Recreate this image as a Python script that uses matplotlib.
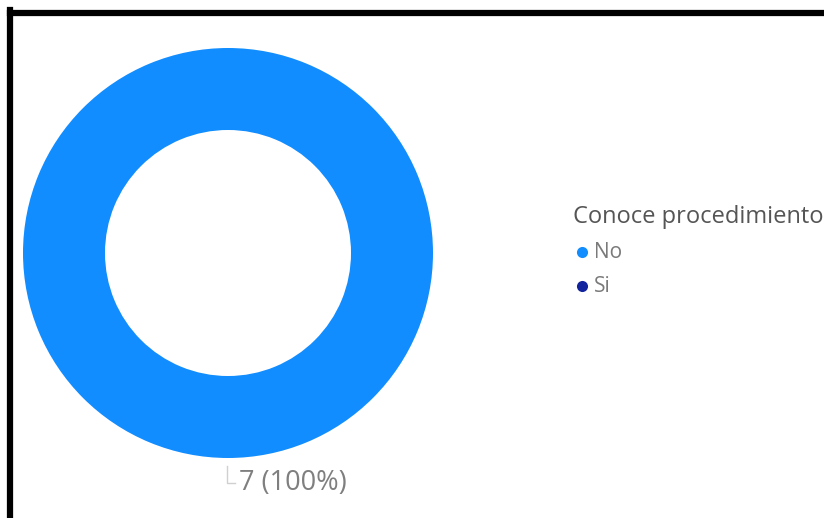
import numpy as np
import matplotlib
matplotlib.use('Agg')
import matplotlib.pyplot as plt
from matplotlib.lines import Line2D

# Respuestas: ¿conoce el procedimiento?
categorias = ['No', 'Si']
conteos = [7, 0]
colores = ['#118DFF', '#12239E']

W, H = 824, 518
fig = plt.figure(figsize=(W / 100, H / 100), dpi=100)
plt.rcParams['font.family'] = ['Open Sans', 'DejaVu Sans']

# marco negro (solo se ven los bordes superior e izquierdo)
fig.add_artist(Line2D([10 / W, 10 / W], [0, 1 - 10 / H], color='black', lw=4.5,
                      solid_capstyle='projecting', transform=fig.transFigure))
fig.add_artist(Line2D([10 / W, 1], [1 - 12.5 / H, 1 - 12.5 / H], color='black', lw=4.5,
                      solid_capstyle='projecting', transform=fig.transFigure))

# dona
cx, cy, r = 228, 253, 205
ax = fig.add_axes([(cx - r) / W, (H - cy - r) / H, 2 * r / W, 2 * r / H])
valores = np.array(conteos, dtype=float)
wedges, _ = ax.pie(valores, colors=colores, startangle=90, counterclock=False,
                   radius=1, wedgeprops=dict(width=0.4, edgecolor='none'))
ax.set_xlim(-1, 1)
ax.set_ylim(-1, 1)
ax.set_aspect('equal')
ax.axis('off')

# etiqueta de datos con línea guía
total = valores.sum()
i = int(np.argmax(valores))
ang = np.deg2rad((wedges[i].theta1 + wedges[i].theta2) / 2)
x0, y0 = -0.005 + np.cos(ang), 1.04 * np.sin(ang)
ax.plot([x0, x0, x0 + 0.04], [y0, y0 - 0.08, y0 - 0.08], color='#D0D0D0',
        lw=1, clip_on=False)
ax.text(x0 + 0.06, y0 - 0.08, f'{int(conteos[i])} ({conteos[i] / total:.0%})',
        ha='left', va='center', fontsize=19.5, color='#7F7F7F', clip_on=False)

# leyenda
fig.text(573 / W, 1 - 217 / H, 'Conoce procedimiento', fontsize=17,
         color='#555555', ha='left', va='center')
for k, (cat, col) in enumerate(zip(categorias, colores)):
    y = 1 - (252 + 34 * k) / H
    fig.add_artist(Line2D([582 / W], [y], marker='o', markersize=8, color=col,
                          markeredgewidth=0, transform=fig.transFigure))
    fig.text(594 / W, y, cat, fontsize=15, color='#7A7A7A', ha='left', va='center')

fig.savefig('out.png', dpi=100)
